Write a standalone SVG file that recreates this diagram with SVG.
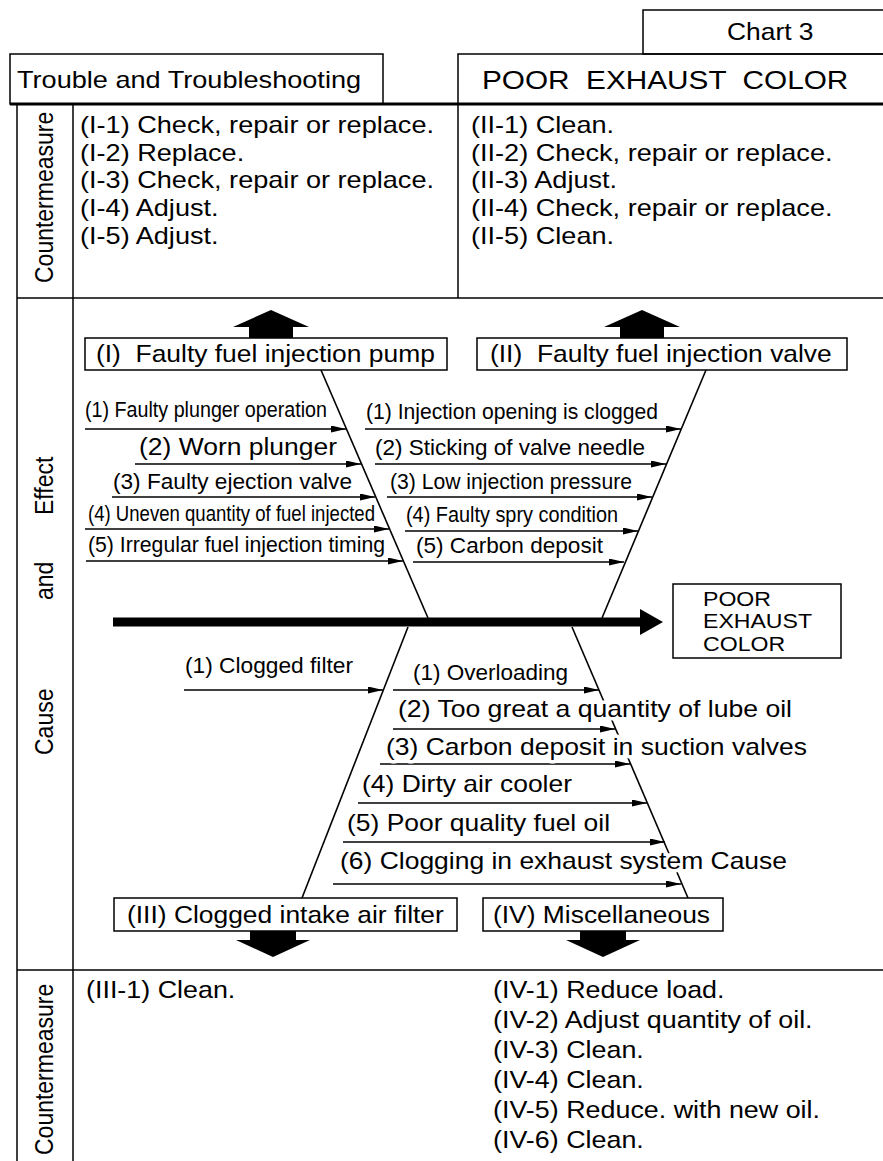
<svg xmlns="http://www.w3.org/2000/svg" width="883" height="1161" viewBox="0 0 883 1161">
<defs>
<style>
.f{fill:none;stroke:#000;stroke-width:1.5}
.fk{fill:none;stroke:#000;stroke-width:3}
.b{fill:#fff;stroke:#000;stroke-width:1.5}
.br{stroke:#000;stroke-width:1.6;fill:none;marker-end:url(#ah)}
.bone{stroke:#000;stroke-width:1.6;fill:none}
.t{font-family:"Liberation Sans",Arial,Helvetica,sans-serif;font-size:24px;fill:#000}
.s{font-family:"Liberation Sans",Arial,Helvetica,sans-serif;font-size:22px;fill:#000}
.h{stroke:#fff;stroke-width:7;stroke-linejoin:round;paint-order:stroke}
.fat{fill:#000}
</style>
<marker id="ah" viewBox="0 0 15 7" refX="15" refY="3.5" markerWidth="15" markerHeight="7" markerUnits="userSpaceOnUse" orient="auto">
<path d="M0,0 L15,3.5 L0,7 z" fill="#000"/>
</marker>
</defs>
<rect width="883" height="1161" fill="#fff"/>

<g id="frame">
<rect class="f" x="643" y="10" width="245" height="44"/>
<rect class="f" x="10" y="54" width="373" height="50"/>
<rect class="f" x="458" y="54" width="430" height="50"/>
<line class="fk" x1="10" y1="104" x2="883" y2="104"/>
<line class="f" x1="17" y1="104" x2="17" y2="1161"/>
<line class="f" x1="73" y1="104" x2="73" y2="1161"/>
<line class="f" x1="458" y1="104" x2="458" y2="298"/>
<line class="f" x1="17" y1="298" x2="883" y2="298"/>
<line class="f" x1="17" y1="970" x2="883" y2="970"/>
</g>

<g id="headers">
<text class="t" transform="translate(727 40) scale(1.1 1)">Chart 3</text>
<text class="t" transform="translate(17 88) scale(1.13 1)">Trouble and Troubleshooting</text>
<text class="t" style="font-size:25px" transform="translate(482 89) scale(1.19 1)" xml:space="preserve">POOR  EXHAUST  COLOR</text>
</g>

<g id="side-labels">
<text class="t" style="font-size:23px" transform="translate(53 283) scale(1.1 1) rotate(-90)">Countermeasure</text>
<text class="t" style="font-size:23px" transform="translate(53 755) scale(1.1 1) rotate(-90)"><tspan x="0">Cause</tspan><tspan x="155">and</tspan><tspan x="240">Effect</tspan></text>
<text class="t" style="font-size:23px" transform="translate(53 1155) scale(1.1 1) rotate(-90)">Countermeasure</text>
</g>

<g id="countermeasure-I">
<text class="t" transform="translate(80 133) scale(1.13 1)">(I-1) Check, repair or replace.</text>
<text class="t" transform="translate(80 161) scale(1.13 1)">(I-2) Replace.</text>
<text class="t" transform="translate(80 188) scale(1.13 1)">(I-3) Check, repair or replace.</text>
<text class="t" transform="translate(80 216) scale(1.13 1)">(I-4) Adjust.</text>
<text class="t" transform="translate(80 244) scale(1.13 1)">(I-5) Adjust.</text>
</g>
<g id="countermeasure-II">
<text class="t" transform="translate(471 133) scale(1.13 1)">(II-1) Clean.</text>
<text class="t" transform="translate(471 161) scale(1.13 1)">(II-2) Check, repair or replace.</text>
<text class="t" transform="translate(471 188) scale(1.13 1)">(II-3) Adjust.</text>
<text class="t" transform="translate(471 216) scale(1.13 1)">(II-4) Check, repair or replace.</text>
<text class="t" transform="translate(471 244) scale(1.13 1)">(II-5) Clean.</text>
</g>
<g id="countermeasure-III">
<text class="t" transform="translate(86 998) scale(1.12 1)">(III-1) Clean.</text>
</g>
<g id="countermeasure-IV">
<text class="t" transform="translate(493 998) scale(1.12 1)">(IV-1) Reduce load.</text>
<text class="t" transform="translate(493 1028) scale(1.12 1)">(IV-2) Adjust quantity of oil.</text>
<text class="t" transform="translate(493 1058) scale(1.12 1)">(IV-3) Clean.</text>
<text class="t" transform="translate(493 1088) scale(1.12 1)">(IV-4) Clean.</text>
<text class="t" transform="translate(493 1118) scale(1.12 1)">(IV-5) Reduce. with new oil.</text>
<text class="t" transform="translate(493 1148) scale(1.12 1)">(IV-6) Clean.</text>
</g>

<g id="connectors">
<line class="bone" x1="321" y1="370" x2="428" y2="618"/>
<line class="bone" x1="706" y1="370" x2="602" y2="618"/>
<line class="bone" x1="408" y1="627" x2="302" y2="898"/>
<line class="bone" x1="572" y1="627" x2="688" y2="898"/>
<line x1="113" y1="622" x2="642" y2="622" stroke="#000" stroke-width="9"/>
<polygon class="fat" points="640,609 663,622 640,635"/>
<line class="br" x1="85" y1="429" x2="346" y2="429"/>
<line class="br" x1="135" y1="464" x2="361" y2="464"/>
<line class="br" x1="112" y1="497" x2="375" y2="497"/>
<line class="br" x1="85" y1="529" x2="389" y2="529"/>
<line class="br" x1="86" y1="561" x2="403" y2="561"/>
<line class="br" x1="365" y1="429" x2="681" y2="429"/>
<line class="br" x1="375" y1="464" x2="666" y2="464"/>
<line class="br" x1="387" y1="497" x2="652" y2="497"/>
<line class="br" x1="405" y1="531" x2="638" y2="531"/>
<line class="br" x1="413" y1="562" x2="624" y2="562"/>
<line class="br" x1="184" y1="690" x2="383" y2="690"/>
<line class="br" x1="393" y1="690" x2="599" y2="690"/>
<line class="br" x1="393" y1="729" x2="615" y2="729"/>
<line class="br" x1="380" y1="764" x2="630" y2="764"/>
<line class="br" x1="358" y1="803" x2="647" y2="803"/>
<line class="br" x1="343" y1="842" x2="665" y2="842"/>
<line class="br" x1="333" y1="884" x2="681" y2="884"/>
</g>

<g id="node-I">
<polygon class="fat" points="271,310 309,327 293,327 293,338 249,338 249,327 233,327"/>
<rect class="b" x="85" y="338" width="362" height="32"/>
<text class="t" transform="translate(96 362) scale(1.1 1)" xml:space="preserve">(I)  Faulty fuel injection pump</text>
</g>
<g id="node-II">
<polygon class="fat" points="642,310 680,327 664,327 664,338 620,338 620,327 604,327"/>
<rect class="b" x="477" y="338" width="370" height="32"/>
<text class="t" transform="translate(490 362) scale(1.1 1)" xml:space="preserve">(II)  Faulty fuel injection valve</text>
</g>
<g id="node-III">
<rect class="b" x="114" y="898" width="343" height="33"/>
<text class="t" transform="translate(127 923) scale(1.1 1)">(III) Clogged intake air filter</text>
<polygon class="fat" points="250,931 296,931 296,940 310,940 273,957 236,940 250,940"/>
</g>
<g id="node-IV">
<rect class="b" x="483" y="898" width="240" height="33"/>
<text class="t" transform="translate(493 923) scale(1.1 1)">(IV) Miscellaneous</text>
<polygon class="fat" points="580,931 626,931 626,940 640,940 603,957 566,940 580,940"/>
</g>
<g id="node-effect">
<rect class="b" x="673" y="584" width="168" height="74"/>
<text class="t" style="font-size:21px" transform="translate(703 606) scale(1.1 1)">POOR</text>
<text class="t" style="font-size:21px" transform="translate(703 628) scale(1.1 1)">EXHAUST</text>
<text class="t" style="font-size:21px" transform="translate(703 651) scale(1.1 1)">COLOR</text>
</g>

<g id="labels-I">
<text class="s" x="85" y="417" textLength="242" lengthAdjust="spacingAndGlyphs">(1) Faulty plunger operation</text>
<text class="s" style="font-size:23px" x="139" y="455" textLength="198" lengthAdjust="spacingAndGlyphs">(2) Worn plunger</text>
<text class="s" x="113" y="489" textLength="239" lengthAdjust="spacingAndGlyphs">(3) Faulty ejection valve</text>
<text class="s" x="88" y="521" textLength="287" lengthAdjust="spacingAndGlyphs">(4) Uneven quantity of fuel injected</text>
<text class="s" x="88" y="552" textLength="297" lengthAdjust="spacingAndGlyphs">(5) Irregular fuel injection timing</text>
</g>
<g id="labels-II">
<text class="s" x="366" y="419" textLength="292" lengthAdjust="spacingAndGlyphs">(1) Injection opening is clogged</text>
<text class="s" x="375" y="455" textLength="270" lengthAdjust="spacingAndGlyphs">(2) Sticking of valve needle</text>
<text class="s" x="390" y="489" textLength="242" lengthAdjust="spacingAndGlyphs">(3) Low injection pressure</text>
<text class="s" x="406" y="522" textLength="212" lengthAdjust="spacingAndGlyphs">(4) Faulty spry condition</text>
<text class="s" x="416" y="553" textLength="187" lengthAdjust="spacingAndGlyphs">(5) Carbon deposit</text>
</g>
<g id="labels-III">
<text class="s" x="185" y="673" textLength="168" lengthAdjust="spacingAndGlyphs">(1) Clogged filter</text>
</g>
<g id="labels-IV">
<text class="s h" x="413" y="680" textLength="155" lengthAdjust="spacingAndGlyphs">(1) Overloading</text>
<text class="t h" x="398" y="717" textLength="394" lengthAdjust="spacingAndGlyphs">(2) Too great a quantity of lube oil</text>
<text class="t h" x="386" y="755" textLength="421" lengthAdjust="spacingAndGlyphs">(3) Carbon deposit in suction valves</text>
<text class="t h" x="362" y="792" textLength="210" lengthAdjust="spacingAndGlyphs">(4) Dirty air cooler</text>
<text class="t h" x="347" y="831" textLength="263" lengthAdjust="spacingAndGlyphs">(5) Poor quality fuel oil</text>
<text class="t h" x="340" y="869" textLength="447" lengthAdjust="spacingAndGlyphs">(6) Clogging in exhaust system Cause</text>
</g>
</svg>
